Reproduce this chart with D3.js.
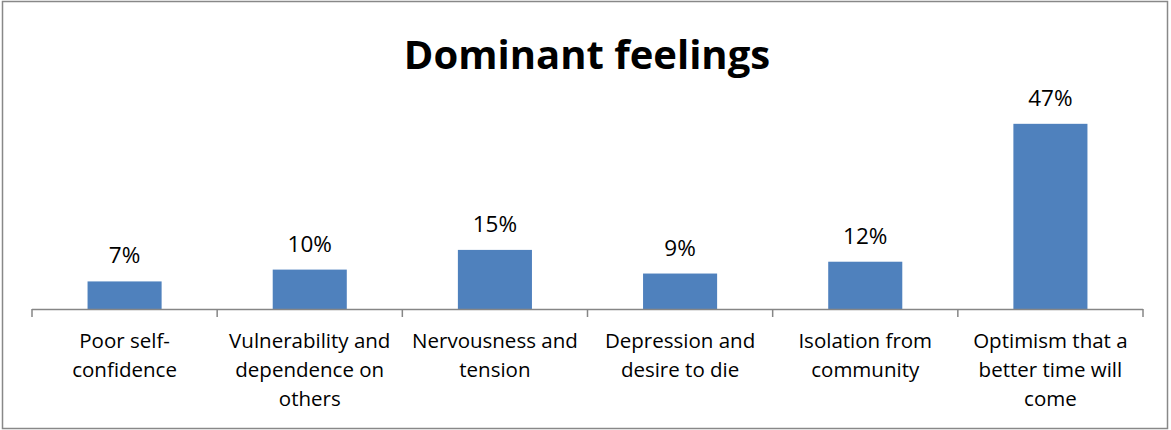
<!DOCTYPE html>
<html>
<head>
<meta charset="utf-8">
<script src="https://cdn.jsdelivr.net/npm/d3@7"></script>
<style>
  body { margin: 0; background: #fff; }
  text { font-family: "Open Sans", "Liberation Sans", sans-serif; fill: #000; }
</style>
</head>
<body>
<div id="chart"></div>
<script>
// données
const categories = [
    "Poor self-\nconfidence",
    "Vulnerability and\ndependence on\nothers",
    "Nervousness and\ntension",
    "Depression and\ndesire to die",
    "Isolation from\ncommunity",
    "Optimism that a\nbetter time will\ncome"
];
const values = [7, 10, 15, 9, 12, 47];
const title = "Dominant feelings";

const width = 1171;
const height = 430;

const svg = d3.select("#chart").append("svg")
    .attr("width", width)
    .attr("height", height);

// cadre
svg.append("rect")
    .attr("x", 2.5).attr("y", 1.5)
    .attr("width", 1165).attr("height", 427)
    .attr("fill", "none")
    .attr("stroke", "#888")
    .attr("stroke-width", 1.5);

svg.append("text")
    .attr("x", 587).attr("y", 69)
    .attr("text-anchor", "middle")
    .style("font-size", "40px")
    .style("font-weight", "bold")
    .text(title);

const x = d3.scaleBand()
    .domain(categories)
    .range([32, 1143])
    .paddingInner(0.6)
    .paddingOuter(0.3);

const y = d3.scaleLinear()
    .domain([0, 50])
    .range([309, 112]);

svg.selectAll("rect.bar")
    .data(values)
    .join("rect")
    .attr("class", "bar")
    .attr("x", (d, i) => x(categories[i]))
    .attr("y", d => y(d))
    .attr("width", x.bandwidth())
    .attr("height", d => y(0) - y(d))
    .attr("fill", "#4F81BD");

svg.selectAll("text.val")
    .data(values)
    .join("text")
    .attr("class", "val")
    .attr("x", (d, i) => x(categories[i]) + x.bandwidth() / 2)
    .attr("y", d => y(d) - 18)
    .attr("text-anchor", "middle")
    .style("font-size", "22.5px")
    .text(d => d + "%");

// axe x
const xAxis = svg.append("g");
xAxis.append("line")
    .attr("x1", 32).attr("x2", 1143)
    .attr("y1", 309.5).attr("y2", 309.5)
    .attr("stroke", "#868686").attr("stroke-width", 1.5);

const edges = d3.range(categories.length + 1).map(i => 32 + i * (1111 / categories.length));
xAxis.selectAll("line.tick")
    .data(edges)
    .join("line")
    .attr("class", "tick")
    .attr("x1", d => d).attr("x2", d => d)
    .attr("y1", 309).attr("y2", 317)
    .attr("stroke", "#868686").attr("stroke-width", 1.5);

const labels = svg.selectAll("text.cat")
    .data(categories)
    .join("text")
    .attr("class", "cat")
    .attr("text-anchor", "middle")
    .style("font-size", "20.5px");

labels.each(function (d) {
    const cx = x(d) + x.bandwidth() / 2;
    d3.select(this).selectAll("tspan")
        .data(d.split("\n"))
        .join("tspan")
        .attr("x", cx)
        .attr("y", (l, j) => 348 + j * 29)
        .text(l => l);
});
</script>
</body>
</html>
